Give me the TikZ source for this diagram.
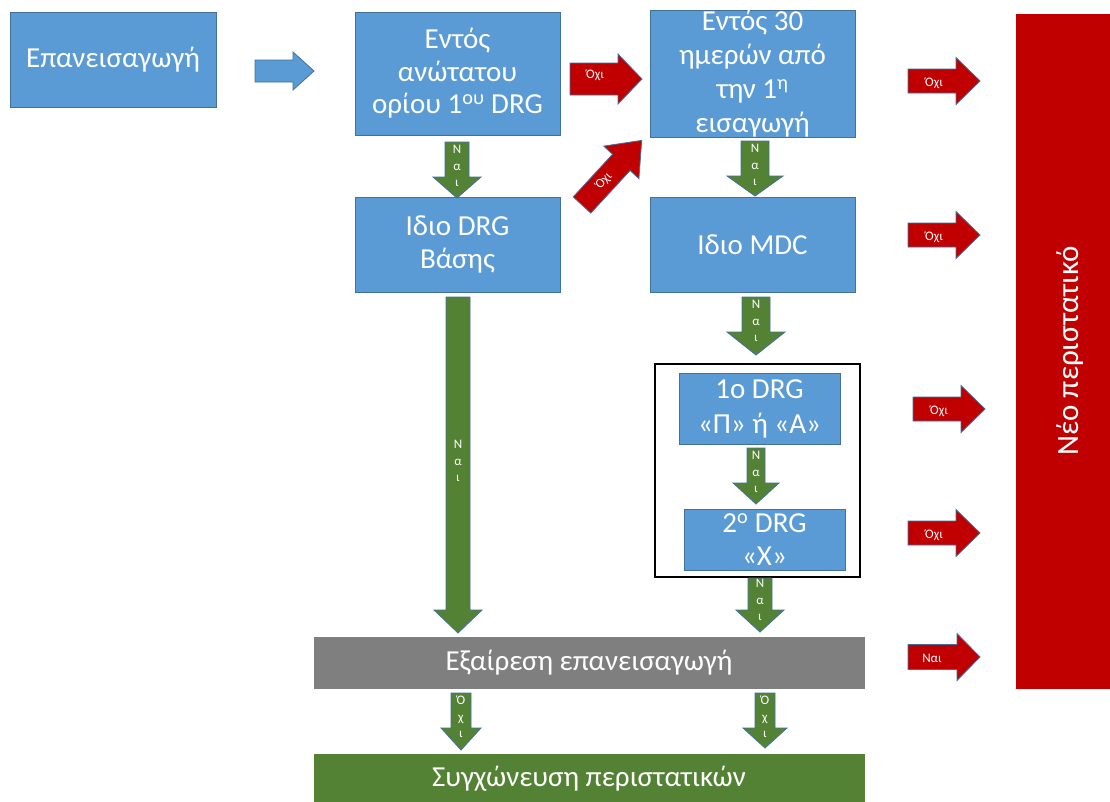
\documentclass[tikz,border=0pt]{standalone}
\usepackage{fontspec}
\setmainfont{Carlito}
\definecolor{boxblue}{HTML}{5B9BD5}
\definecolor{bordblue}{HTML}{41719C}
\definecolor{arrred}{HTML}{C00000}
\definecolor{arrgreen}{HTML}{548235}
\definecolor{boxgrey}{HTML}{7F7F7F}
\newcommand\myvarrow[6]{% xc, s, h, top, hb, tip
  \draw[grnarr] ({#1-#2},#4) -- ({#1+#2},#4) -- ({#1+#2},#5) -- ({#1+#3},#5) -- (#1,#6) -- ({#1-#3},#5) -- ({#1-#2},#5) -- cycle;}
\newcommand\myharrow[7]{% style, x0, hb, tip, yc, s, h
  \draw[#1] (#2,{#5-#6}) -- (#3,{#5-#6}) -- (#3,{#5-#7}) -- (#4,#5) -- (#3,{#5+#7}) -- (#3,{#5+#6}) -- (#2,{#5+#6}) -- cycle;}
\begin{document}
\begin{tikzpicture}[x=1pt,y=-1pt,
  box/.style={draw=bordblue, line width=0.8pt, fill=boxblue, text=white, align=center, inner sep=0pt, font=\fontsize{29}{32.5}\selectfont},
  blockarr/.style={draw=bordblue, line width=0.8pt},
  redarr/.style={blockarr, fill=arrred},
  grnarr/.style={blockarr, fill=arrgreen},
  bluearr/.style={blockarr, fill=boxblue},
  lbl/.style={text=white, font=\fontsize{13}{16.5}\selectfont, align=center, inner sep=0pt}]
\useasboundingbox (0,0) rectangle (1110,801);
\fill[white] (0,0) rectangle (1110,801);

% boxes
\node[box, minimum width=206pt, minimum height=95pt] (n1) at (113,59.5) {Επανεισαγωγή};
\node[box, minimum width=205pt, minimum height=123pt] (n2) at (457.5,73.5) {Εντός\\ανώτατου\\ορίου 1\textsuperscript{ου} DRG};
\node[box, minimum width=205pt, minimum height=123pt, font=\fontsize{29}{34}\selectfont] (n3) at (752.5,73.5) {Εντός 30\\ημερών από\\την 1\textsuperscript{η}\\εισαγωγή};
\node[box, minimum width=205pt, minimum height=95pt] (n4) at (457.5,244.5) {Ιδιο DRG\\Βάσης};
\node[box, minimum width=205pt, minimum height=95pt] (n5) at (752.5,244.5) {Ιδιο MDC};
\node[draw=black, line width=1.2pt, fill=white, minimum width=205pt, minimum height=213pt, inner sep=0pt] (frame) at (757.5,470.5) {};
\node[box, minimum width=161pt, minimum height=71pt, font=\fontsize{29}{35}\selectfont] (n6) at (759.5,409) {1o DRG\\«Π» ή «Α»};
\node[box, minimum width=161pt, minimum height=61pt, font=\fontsize{29}{33}\selectfont] (n7) at (764.5,539.5) {2\textsuperscript{o} DRG\\«Χ»};
\node[box, draw=boxgrey, fill=boxgrey, minimum width=550pt, minimum height=51pt] (n8) at (589,662.5) {Εξαίρεση επανεισαγωγή};
\node[box, draw=arrgreen, fill=arrgreen, minimum width=550pt, minimum height=50pt] (n9) at (589,779) {Συγχώνευση περιστατικών};
\node[box, draw=arrred, fill=arrred, minimum width=108pt, minimum height=674pt] (n10) at (1070,351) {};
\node[text=white, rotate=90, font=\fontsize{31}{34}\selectfont, inner sep=0pt] (n10t) at (n10.center) {Νέο περιστατικό};

% blue arrow
\myharrow{bluearr}{255}{293}{314}{71}{11}{19}

% red horizontal arrows
\myharrow{redarr}{570}{618}{642}{79}{16}{25}
\node[lbl] (l1) at (595,75) {Όχι};
\myharrow{redarr}{908}{956}{980}{81}{12}{23.5}
\node[lbl] (l2) at (934,83) {Όχι};
\myharrow{redarr}{908}{956}{980}{235}{12}{23.5}
\node[lbl] (l3) at (934,237) {Όχι};
\myharrow{redarr}{913}{961}{985}{409}{12}{23.5}
\node[lbl] (l4) at (939,411) {Όχι};
\myharrow{redarr}{908}{956}{980}{533}{12}{23.5}
\node[lbl] (l5) at (934,535) {Όχι};
\myharrow{redarr}{908}{957}{980}{657}{12.5}{23.5}
\node[lbl] (l6) at (932,658) {Ναι};

% diagonal red arrow
\draw[redarr] (573.2,196.9) -- (612.5,154.3) -- (603.7,146.1) -- (641.7,140.4) -- (638.9,178.7) -- (630.1,170.5) -- (590.8,213.1) -- cycle;
\node[lbl, rotate=47] (l7) at (604,181) {Όχι};

% green arrows
\myvarrow{457}{12}{24}{142}{177}{198}
\node[lbl] (g1) at (457,166) {Ν\\α\\ι};
\myvarrow{755}{14}{28}{141}{176}{196}
\node[lbl] (g2) at (755,165) {Ν\\α\\ι};
\myvarrow{756}{14}{29}{297}{332}{355}
\node[lbl] (g3) at (756,321) {Ν\\α\\ι};
\myvarrow{458}{12}{24}{297}{610}{633}
\node[lbl] (g4) at (458,461) {Ν\\α\\ι};
\myvarrow{756}{9}{23}{448}{483}{504}
\node[lbl] (g5) at (756,472) {Ν\\α\\ι};
\myvarrow{760}{12}{24}{578}{610}{632}
\node[lbl] (g6) at (760,600) {Ν\\α\\ι};
\myvarrow{461}{10}{20}{693}{728}{750}
\node[lbl] (g7) at (461,717) {Ό\\χ\\ι};
\myvarrow{765}{10}{22}{693}{728}{748}
\node[lbl] (g8) at (765,717) {Ό\\χ\\ι};
\end{tikzpicture}
\end{document}
